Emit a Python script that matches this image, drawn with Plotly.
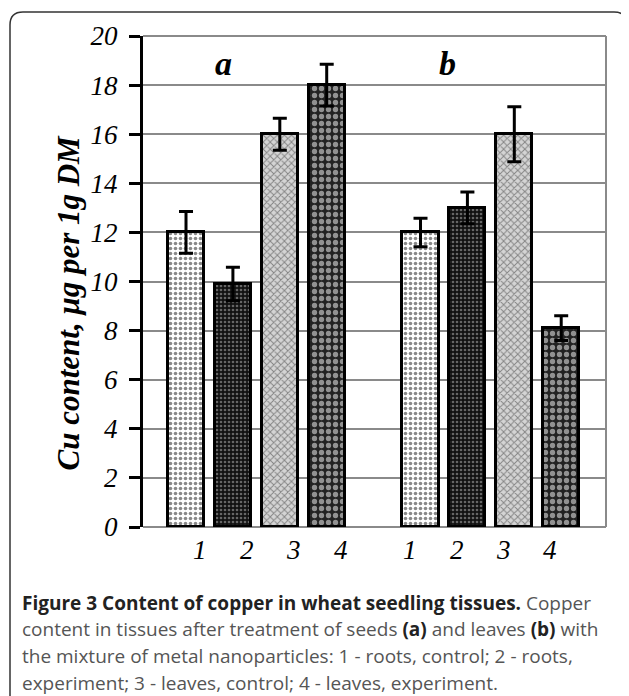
import plotly.graph_objects as go

# ---- data ----
categories = ["1", "2", "3", "4"]
groups = ["a", "b"]
a_values = [12.0, 9.9, 16.0, 18.0]
a_errors = [0.85, 0.68, 0.65, 0.85]
b_values = [12.0, 13.0, 16.0, 8.1]
b_errors = [0.58, 0.65, 1.12, 0.5]
y_ticks = [0, 2, 4, 6, 8, 10, 12, 14, 16, 18, 20]

# ---- geometry (page pixels; the page body has an 8px margin) ----
OFF = 8
W, H = 629 - OFF, 696 - OFF
L, R, T, B = 143 - OFF, 606 - OFF, 36 - OFF, 527 - OFF  # plot area in figure pixels


def px(x):
    return (x - OFF - L) / (R - L)


def py(y):
    return (B - (y - OFF)) / (B - T)


patterns = [
    dict(shape=".", fgcolor="#111111", bgcolor="#ffffff", size=5, solidity=0.4),
    dict(shape=".", fgcolor="#bbbbbb", bgcolor="#111111", size=4, solidity=0.35),
    dict(shape="x", fgcolor="#333333", bgcolor="#d4d4d4", size=5, solidity=0.35),
    dict(shape=".", fgcolor="#ffffff", bgcolor="#222222", size=7, solidity=0.45),
]

group_gap = 5
fig = go.Figure()
for i, cat in enumerate(categories):
    xs = [i, group_gap + i]
    ys = [a_values[i], b_values[i]]
    es = [a_errors[i], b_errors[i]]
    fig.add_trace(go.Bar(
        x=xs, y=ys, width=0.77, name=cat,
        marker=dict(color="white", line=dict(color="black", width=3),
                    pattern=patterns[i]),
        error_y=dict(type="data", array=es, visible=True,
                     color="black", thickness=3, width=7),
        showlegend=False,
    ))

serif = "Liberation Serif"

fig.update_layout(
    width=W, height=H,
    margin=dict(l=L, r=W - R, t=T, b=H - B, pad=0),
    paper_bgcolor="white", plot_bgcolor="white",
    bargap=0, barmode="overlay",
    xaxis=dict(range=[-0.917, 8.955], showticklabels=False, ticks="",
               showgrid=False, zeroline=False, showline=False, fixedrange=True),
    yaxis=dict(range=[0, 20], tickvals=y_ticks,
               ticktext=[f"<i>{v}</i>" for v in y_ticks],
               ticks="outside", ticklen=11,
               tickwidth=3, tickcolor="black",
               tickfont=dict(family=serif, size=27, color="black", style="italic"),
               showgrid=True, gridcolor="#8a8a8a", gridwidth=1.5,
               zeroline=False, showline=True, linecolor="black", linewidth=3,
               ticklabelstandoff=6),
)

shapes = []
shapes.append(dict(type="line", xref="paper", yref="paper", x0=1, x1=1, y0=0, y1=1,
                   line=dict(color="#8a8a8a", width=2)))
shapes.append(dict(type="line", xref="paper", yref="paper", x0=0, x1=1, y0=0, y1=0,
                   line=dict(color="#8a8a8a", width=2), layer="below"))
shapes.append(dict(type="line", xref="paper", yref="paper", x0=0, x1=1, y0=1, y1=1,
                   line=dict(color="#8a8a8a", width=2), layer="below"))
fl, ft, fr, fb, rr = 10, 12, 627, 720, 13
path = (f"M {px(fl)},{py(fb)} L {px(fl)},{py(ft + rr)} "
        f"Q {px(fl)},{py(ft)} {px(fl + rr)},{py(ft)} "
        f"L {px(fr - rr)},{py(ft)} Q {px(fr)},{py(ft)} {px(fr)},{py(ft + rr)} "
        f"L {px(fr)},{py(fb)}")
shapes.append(dict(type="path", xref="paper", yref="paper", path=path,
                   line=dict(color="#333333", width=1.5)))
fig.update_layout(shapes=shapes)

ann = []
letter_font = dict(family=serif, size=34, color="black", weight="bold", style="italic")
ann.append(dict(x=0.8, y=18.9, xref="x", yref="y", text="a", showarrow=False, font=letter_font))
ann.append(dict(x=5.57, y=18.9, xref="x", yref="y", text="b", showarrow=False, font=letter_font))
label_shift = [0.3, -0.23]
for g in range(len(groups)):
    for i, cat in enumerate(categories):
        ann.append(dict(x=g * group_gap + i + label_shift[g], y=py(567), xref="x", yref="paper",
                        text=f"<i>{cat}</i>", showarrow=False,
                        font=dict(family=serif, size=27, color="black", style="italic")))
ann.append(dict(x=px(48), y=py(303), xref="paper", yref="paper", textangle=-90,
                text="Cu content, μg per 1g DM", showarrow=False,
                font=dict(family=serif, size=31, color="black", weight="bold", style="italic")))

cap_font = dict(family="Open Sans", size=19, color="#555555")
caption = [
    "<span style='color:#222'><b>Figure 3 Content of copper in wheat seedling tissues.</b></span> Copper",
    "content in tissues after treatment of seeds <span style='color:#222'><b>(a)</b></span> and leaves <span style='color:#222'><b>(b)</b></span> with",
    "the mixture of metal nanoparticles: 1 - roots, control; 2 - roots,",
    "experiment; 3 - leaves, control; 4 - leaves, experiment.",
]
cap_y = [603, 629, 656, 683]
for t, yy in zip(caption, cap_y):
    ann.append(dict(x=px(20), y=py(yy), xref="paper", yref="paper", text=t,
                    showarrow=False, xanchor="left", yanchor="middle", align="left",
                    font=cap_font))
fig.update_layout(annotations=ann)

fig.write_html("out.html")
